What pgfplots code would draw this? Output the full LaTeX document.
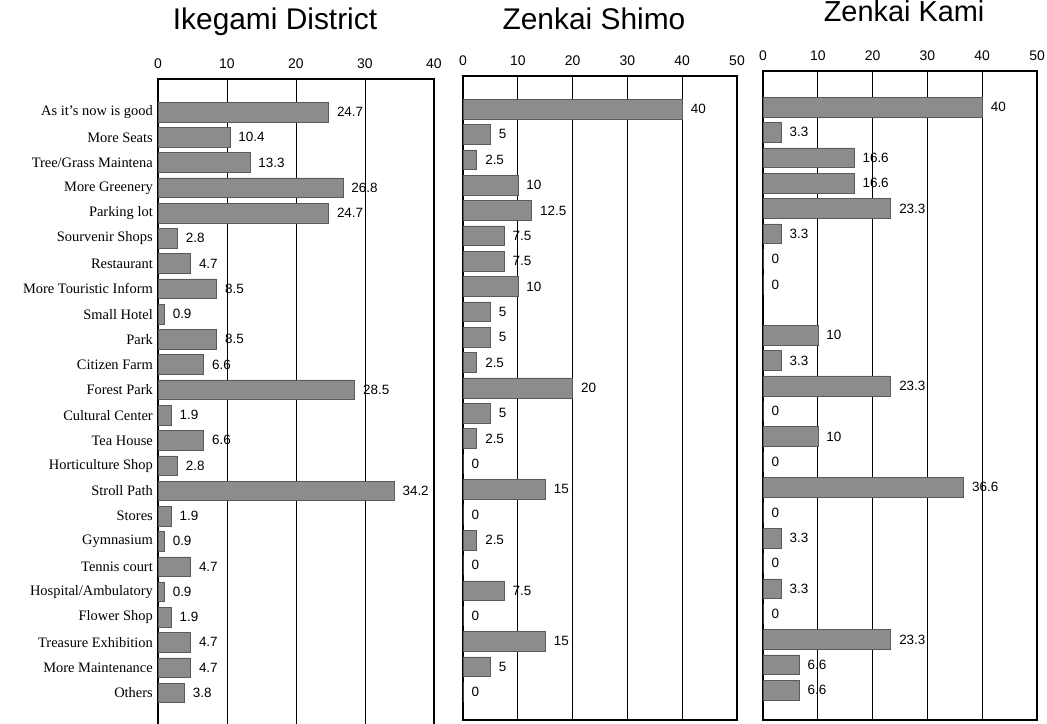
\documentclass[border=0pt]{standalone}
\usepackage{fontspec}
\setmainfont{Liberation Serif}
\newfontfamily\sansf{Liberation Sans}
\usepackage{pgfplots}
\pgfplotsset{compat=1.18}

\definecolor{barfill}{RGB}{140,140,140}
\definecolor{baredge}{RGB}{90,90,90}

\pgfplotsset{
  panel/.style={
    scale only axis,
    xbar,
    y dir=reverse,
    xmin=0,
    ytick={0,...,23},
    xtick distance=10,
    xticklabel pos=upper,
    major tick length=0pt,
    axis line style={line width=1.1bp},
    xmajorgrids,
    major grid style={black, line width=0.9bp},
    /pgf/number format/assume math mode=true,
    xticklabel style={font=\fontsize{14}{14}\sansf, yshift=7bp},
    yticklabel style={font=\fontsize{14.5}{14.5}\selectfont, inner sep=5bp},
    bar width=0.78,
    point meta=x,
    nodes near coords,
    every node near coord/.append style={anchor=west, xshift=5bp,
      font=\fontsize{13.5}{13.5}\sansf},
    title style={font=\fontsize{30}{30}\sansf, anchor=base},
  },
  bars/.style={fill=barfill, draw=baredge, line width=0.5bp},
}

\begin{document}
\begin{tikzpicture}
\useasboundingbox (0,0) rectangle (1047bp,724bp);

% Ikegami District (bottom edge falls below the page, as in the scan)
\begin{axis}[panel,
  at={(158bp,-8bp)}, anchor=south west,
  width=276bp, height=653bp,
  xmax=40, ymin=-1.31, ymax=24.55,
  title={Ikegami District},
  title style={at={(0.424,1)}, yshift=44bp},
  yticklabels={As it's now is good, More Seats, Tree/Grass Maintena,
    More Greenery, Parking lot, Sourvenir Shops, Restaurant,
    More Touristic Inform, Small Hotel, Park, Citizen Farm, Forest Park,
    Cultural Center, Tea House, Horticulture Shop, Stroll Path, Stores,
    Gymnasium, Tennis court, Hospital/Ambulatory, Flower Shop,
    Treasure Exhibition, More Maintenance, Others},
]
\addplot[bars] coordinates {
  (24.7,0) (10.4,1) (13.3,2) (26.8,3) (24.7,4) (2.8,5) (4.7,6) (8.5,7)
  (0.9,8) (8.5,9) (6.6,10) (28.5,11) (1.9,12) (6.6,13) (2.8,14) (34.2,15)
  (1.9,16) (0.9,17) (4.7,18) (0.9,19) (1.9,20) (4.7,21) (4.7,22) (3.8,23)
};
\end{axis}

% Zenkai Shimo
\begin{axis}[panel,
  at={(463bp,4bp)}, anchor=south west,
  width=274bp, height=644bp,
  xmax=50, ymin=-1.30, ymax=24.10,
  yticklabels={},
  title={Zenkai Shimo},
  title style={at={(0.478,1)}, yshift=41bp},
]
\addplot[bars] coordinates {
  (40,0) (5,1) (2.5,2) (10,3) (12.5,4) (7.5,5) (7.5,6) (10,7)
  (5,8) (5,9) (2.5,10) (20,11) (5,12) (2.5,13) (0,14) (15,15)
  (0,16) (2.5,17) (0,18) (7.5,19) (0,20) (15,21) (5,22) (0,23)
};
\end{axis}

% Zenkai Kami
\begin{axis}[panel,
  at={(763bp,4bp)}, anchor=south west,
  width=274bp, height=649bp,
  xmax=50, ymin=-1.42, ymax=24.18,
  yticklabels={},
  title={Zenkai Kami},
  title style={at={(0.515,1)}, yshift=44bp, font=\fontsize{29}{29}\sansf},
]
\addplot[bars] coordinates {
  (40,0) (3.3,1) (16.6,2) (16.6,3) (23.3,4) (3.3,5) (0,6) (0,7)
  (10,9) (3.3,10) (23.3,11) (0,12) (10,13) (0,14) (36.6,15)
  (0,16) (3.3,17) (0,18) (3.3,19) (0,20) (23.3,21) (6.6,22) (6.6,23)
};
\end{axis}
\end{tikzpicture}
\end{document}
